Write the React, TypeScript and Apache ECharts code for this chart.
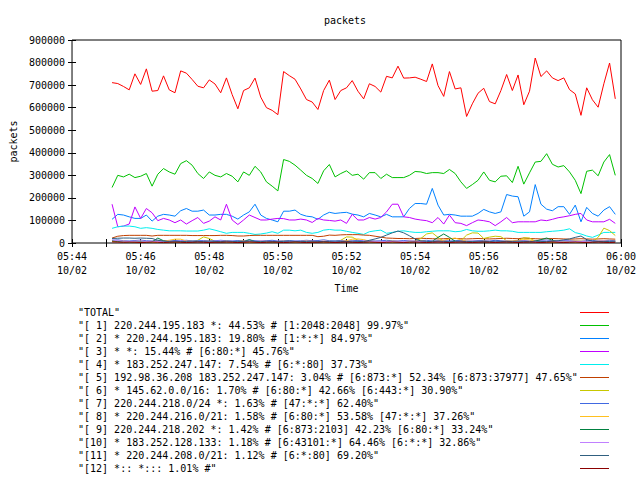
import React, { useEffect, useRef } from "react";
import * as echarts from "echarts";

// ---- data ----
const chartTitle = "packets";
const yAxisTitle = "packets";
const xAxisTitle = "Time";
const xTickLabels = ["05:44", "05:46", "05:48", "05:50", "05:52", "05:54", "05:56", "05:58", "06:00"];
const dateLabel = "10/02";
const xTickSeconds = [0, 120, 240, 360, 480, 600, 720, 840, 960]; // seconds after 05:44:00
const firstSampleSeconds = 70; // 05:45:10
const sampleStepSeconds = 10;

const seriesNames = [
  '"TOTAL"',
  '"[ 1] 220.244.195.183 *: 44.53% # [1:2048:2048] 99.97%"',
  '"[ 2] * 220.244.195.183: 19.80% # [1:*:*] 84.97%"',
  '"[ 3] * *: 15.44% # [6:80:*] 45.76%"',
  '"[ 4] * 183.252.247.147: 7.54% # [6:*:80] 37.73%"',
  '"[ 5] 192.98.36.208 183.252.247.147: 3.04% # [6:873:*] 52.34% [6:873:37977] 47.65%"',
  '"[ 6] * 145.62.0.0/16: 1.70% # [6:80:*] 42.66% [6:443:*] 30.90%"',
  '"[ 7] 220.244.218.0/24 *: 1.63% # [47:*:*] 62.40%"',
  '"[ 8] * 220.244.216.0/21: 1.58% # [6:80:*] 53.58% [47:*:*] 37.26%"',
  '"[ 9] 220.244.218.202 *: 1.42% # [6:873:2103] 42.23% [6:80:*] 33.24%"',
  '"[10] * 183.252.128.133: 1.18% # [6:43101:*] 64.46% [6:*:*] 32.86%"',
  '"[11] * 220.244.208.0/21: 1.12% # [6:*:80] 69.20%"',
  '"[12] *:: *::: 1.01% #"',
];

const seriesColors = [
  "#ff0000", "#00c000", "#0080ff", "#c000ff", "#00eeee", "#c04000", "#c8c800",
  "#4169e1", "#ffc020", "#008040", "#c080ff", "#306080", "#8b0000",
];

const total = [
  711000, 707000, 694000, 679000, 750000, 703000, 772000, 673000, 676000, 741000,
  679000, 666000, 763000, 753000, 725000, 695000, 688000, 723000, 705000, 666000,
  732000, 658000, 595000, 676000, 688000, 731000, 647000, 600000, 588000, 569000,
  760000, 742000, 726000, 683000, 636000, 625000, 592000, 676000, 722000, 636000,
  676000, 688000, 720000, 673000, 639000, 706000, 694000, 669000, 739000, 732000,
  784000, 731000, 732000, 735000, 726000, 716000, 794000, 698000, 650000, 760000,
  683000, 688000, 561000, 617000, 664000, 686000, 627000, 617000, 676000, 747000,
  676000, 745000, 613000, 673000, 820000, 738000, 763000, 732000, 720000, 732000,
  680000, 661000, 566000, 688000, 635000, 602000, 706000, 798000, 639000,
];
const s1 = [
  246000, 300000, 293000, 305000, 290000, 296000, 308000, 252000, 305000, 330000,
  315000, 305000, 352000, 365000, 345000, 308000, 286000, 315000, 300000, 293000,
  308000, 296000, 271000, 315000, 300000, 340000, 315000, 271000, 252000, 231000,
  370000, 362000, 345000, 323000, 300000, 286000, 264000, 320000, 348000, 293000,
  308000, 320000, 300000, 305000, 283000, 312000, 312000, 286000, 305000, 290000,
  290000, 290000, 300000, 317000, 315000, 308000, 312000, 312000, 308000, 326000,
  308000, 271000, 242000, 259000, 278000, 315000, 278000, 271000, 296000, 298000,
  268000, 340000, 261000, 311000, 359000, 362000, 396000, 349000, 337000, 343000,
  315000, 278000, 219000, 318000, 323000, 298000, 359000, 392000, 300000,
];
const s2 = [
  105000, 127000, 124000, 116000, 109000, 109000, 124000, 97000, 119000, 127000,
  124000, 119000, 143000, 153000, 141000, 141000, 146000, 124000, 124000, 127000,
  127000, 119000, 106000, 124000, 138000, 172000, 124000, 109000, 102000, 94000,
  141000, 141000, 146000, 127000, 119000, 116000, 105000, 124000, 136000, 131000,
  134000, 136000, 128000, 124000, 116000, 131000, 124000, 116000, 127000, 116000,
  116000, 116000, 153000, 175000, 175000, 172000, 242000, 168000, 124000, 127000,
  124000, 119000, 119000, 119000, 131000, 149000, 138000, 131000, 138000, 215000,
  208000, 205000, 119000, 138000, 259000, 172000, 150000, 143000, 161000, 161000,
  127000, 168000, 94000, 158000, 131000, 119000, 146000, 161000, 127000,
];
const s3 = [
  172000, 72000, 75000, 84000, 160000, 109000, 153000, 134000, 99000, 109000,
  102000, 90000, 102000, 84000, 99000, 113000, 87000, 97000, 116000, 102000,
  172000, 102000, 82000, 102000, 124000, 113000, 102000, 102000, 106000, 109000,
  108000, 102000, 102000, 106000, 102000, 91000, 109000, 102000, 100000, 97000,
  102000, 87000, 127000, 102000, 102000, 113000, 106000, 113000, 138000, 172000,
  172000, 116000, 113000, 106000, 102000, 99000, 90000, 113000, 84000, 124000,
  90000, 87000, 77000, 90000, 102000, 99000, 94000, 77000, 94000, 113000,
  90000, 94000, 94000, 94000, 94000, 102000, 99000, 105000, 112000, 116000,
  121000, 127000, 131000, 102000, 94000, 94000, 94000, 105000, 87000,
];
const s4 = [
  65000, 72000, 75000, 75000, 72000, 65000, 68000, 65000, 60000, 57000,
  54000, 54000, 54000, 53000, 53000, 53000, 57000, 63000, 57000, 50000,
  43000, 47000, 47000, 47000, 43000, 38000, 40000, 44000, 50000, 43000,
  57000, 57000, 54000, 57000, 47000, 43000, 47000, 57000, 60000, 57000,
  57000, 52000, 47000, 43000, 38000, 50000, 54000, 57000, 43000, 47000,
  52000, 54000, 50000, 47000, 47000, 50000, 52000, 54000, 54000, 54000,
  50000, 52000, 60000, 54000, 52000, 52000, 54000, 57000, 54000, 54000,
  52000, 47000, 47000, 47000, 47000, 47000, 50000, 52000, 54000, 57000,
  63000, 46000, 40000, 31000, 25000, 35000, 47000, 47000, 47000,
];
const s5 = [
  22000, 30000, 33000, 34000, 34000, 34000, 34000, 31000, 34000, 34000,
  34000, 34000, 34000, 34000, 33000, 33000, 33000, 33000, 33000, 34000,
  34000, 33000, 31000, 31000, 33000, 34000, 34000, 34000, 34000, 34000,
  34000, 34000, 34000, 34000, 34000, 34000, 28000, 30000, 35000, 34000,
  36000, 37000, 37000, 37000, 35000, 34000, 30000, 26000, 22000, 21000,
  20000, 20000, 19000, 20000, 21000, 20000, 19000, 18000, 19000, 20000,
  20000, 19000, 18000, 19000, 20000, 19000, 18000, 19000, 20000, 21000,
  20000, 19000, 22000, 20000, 19000, 18000, 19000, 20000, 19000, 18000,
  17000, 18000, 19000, 18000, 17000, 18000, 19000, 18000, 17000,
];
const s6 = [
  8000, 6000, 5000, 5000, 4000, 4000, 5000, 4000, 4000, 5000,
  5000, 4000, 4000, 5000, 6000, 12000, 27000, 20000, 8000, 5000,
  5000, 4000, 4000, 5000, 4000, 4000, 5000, 4000, 4000, 5000,
  5000, 4000, 4000, 5000, 4000, 4000, 5000, 4000, 4000, 6000,
  12000, 27000, 26000, 12000, 5000, 5000, 4000, 5000, 5000, 4000,
  5000, 5000, 4000, 8000, 20000, 40000, 45000, 25000, 8000, 5000,
  5000, 10000, 35000, 45000, 44000, 20000, 26000, 30000, 28000, 10000,
  6000, 10000, 23000, 22000, 8000, 5000, 5000, 4000, 5000, 6000,
  5000, 5000, 4000, 5000, 5000, 25000, 66000, 55000, 33000,
];
const s7 = [
  12000, 14000, 10000, 9000, 11000, 13000, 10000, 9000, 12000, 10000,
  9000, 11000, 10000, 12000, 9000, 10000, 11000, 9000, 10000, 12000,
  10000, 9000, 11000, 10000, 13000, 10000, 9000, 10000, 12000, 9000,
  10000, 11000, 9000, 10000, 12000, 10000, 11000, 14000, 10000, 9000,
  11000, 10000, 9000, 12000, 10000, 11000, 9000, 10000, 12000, 10000,
  9000, 11000, 10000, 8000, 10000, 12000, 9000, 10000, 11000, 9000,
  10000, 12000, 9000, 8000, 10000, 11000, 9000, 12000, 10000, 9000,
  8000, 10000, 11000, 9000, 10000, 12000, 13000, 10000, 9000, 11000,
  10000, 9000, 8000, 10000, 11000, 9000, 10000, 12000, 10000,
];
const s8 = [
  9000, 7000, 8000, 6000, 7000, 8000, 6000, 7000, 8000, 9000,
  12000, 17000, 17000, 9000, 7000, 6000, 7000, 8000, 6000, 7000,
  8000, 6000, 7000, 9000, 7000, 6000, 8000, 7000, 6000, 7000,
  8000, 7000, 6000, 7000, 9000, 7000, 6000, 8000, 7000, 6000,
  7000, 10000, 17000, 18000, 15000, 8000, 7000, 6000, 7000, 8000,
  7000, 6000, 8000, 7000, 9000, 7000, 6000, 8000, 12000, 18000,
  22000, 14000, 8000, 7000, 6000, 8000, 7000, 6000, 7000, 8000,
  9000, 12000, 15000, 14000, 8000, 7000, 6000, 8000, 7000, 6000,
  7000, 9000, 8000, 7000, 6000, 8000, 9000, 7000, 8000,
];
const s9 = [
  10000, 7000, 5000, 4000, 5000, 6000, 4000, 5000, 22000, 10000,
  5000, 4000, 6000, 5000, 4000, 5000, 6000, 4000, 5000, 4000,
  5000, 6000, 4000, 5000, 15000, 6000, 4000, 5000, 4000, 6000,
  5000, 4000, 5000, 6000, 4000, 5000, 4000, 6000, 5000, 4000,
  5000, 6000, 4000, 5000, 4000, 6000, 5000, 4000, 5000, 6000,
  5000, 4000, 5000, 6000, 5000, 4000, 8000, 25000, 40000, 25000,
  8000, 5000, 4000, 5000, 6000, 4000, 5000, 4000, 6000, 5000,
  4000, 5000, 6000, 4000, 8000, 15000, 22000, 12000, 5000, 4000,
  5000, 6000, 4000, 5000, 4000, 6000, 5000, 4000, 5000,
];
const s10 = [
  14000, 10000, 8000, 7000, 8000, 9000, 7000, 8000, 6000, 7000,
  8000, 7000, 9000, 8000, 7000, 6000, 8000, 7000, 8000, 9000,
  7000, 8000, 6000, 7000, 8000, 7000, 9000, 8000, 7000, 8000,
  7000, 6000, 8000, 7000, 8000, 9000, 7000, 8000, 7000, 6000,
  8000, 7000, 8000, 7000, 9000, 8000, 7000, 8000, 6000, 7000,
  8000, 7000, 9000, 8000, 7000, 6000, 8000, 7000, 8000, 7000,
  6000, 8000, 7000, 9000, 8000, 7000, 8000, 6000, 7000, 8000,
  7000, 8000, 9000, 7000, 6000, 8000, 7000, 8000, 7000, 9000,
  8000, 7000, 6000, 8000, 7000, 8000, 9000, 7000, 8000,
];
const s11 = [
  20000, 21000, 22000, 22000, 21000, 22000, 21000, 20000, 12000, 8000,
  7000, 8000, 6000, 7000, 8000, 6000, 7000, 8000, 7000, 6000,
  8000, 7000, 6000, 7000, 8000, 7000, 6000, 8000, 7000, 6000,
  7000, 8000, 7000, 6000, 7000, 8000, 7000, 6000, 7000, 8000,
  7000, 6000, 8000, 7000, 6000, 12000, 18000, 25000, 35000, 45000,
  53000, 45000, 32000, 18000, 9000, 7000, 6000, 8000, 7000, 6000,
  7000, 8000, 6000, 7000, 8000, 7000, 6000, 8000, 7000, 6000,
  7000, 8000, 7000, 6000, 8000, 7000, 6000, 8000, 10000, 14000,
  18000, 25000, 31000, 15000, 8000, 7000, 6000, 7000, 8000,
];
const s12 = [
  5000, 4000, 3000, 4000, 3000, 2000, 3000, 4000, 3000, 2000,
  3000, 4000, 3000, 2000, 3000, 4000, 3000, 2000, 3000, 3000,
  4000, 3000, 2000, 3000, 4000, 3000, 2000, 3000, 4000, 3000,
  2000, 3000, 4000, 3000, 2000, 3000, 3000, 4000, 3000, 2000,
  3000, 4000, 3000, 2000, 3000, 4000, 3000, 2000, 3000, 4000,
  3000, 2000, 3000, 4000, 3000, 2000, 3000, 4000, 3000, 2000,
  3000, 4000, 3000, 2000, 3000, 4000, 3000, 2000, 3000, 4000,
  3000, 2000, 3000, 4000, 3000, 2000, 3000, 4000, 3000, 2000,
  3000, 4000, 3000, 2000, 3000, 4000, 3000, 2000, 3000,
];

const allSeries = [total, s1, s2, s3, s4, s5, s6, s7, s8, s9, s10, s11, s12];

const FONT = '"DejaVu Sans Mono", "Liberation Mono", monospace';

export default function App() {
  const ref = useRef<HTMLDivElement>(null);

  useEffect(() => {
    if (!ref.current) return;
    const chart = echarts.init(ref.current, null, { renderer: "svg" });

    const sampleTimes = total.map((_, i) => firstSampleSeconds + i * sampleStepSeconds);

    const xLabel = (v: number) => {
      const idx = xTickSeconds.indexOf(v);
      return idx >= 0 ? `${xTickLabels[idx]}\n${dateLabel}` : "";
    };

    const legendGraphics: any[] = [];
    seriesNames.forEach((name, i) => {
      const y = 312.5 + 13 * i;
      legendGraphics.push({
        type: "text",
        x: 78,
        y,
        style: { text: name, font: `10px ${FONT}`, fill: "#000", verticalAlign: "middle", align: "left" },
      });
      legendGraphics.push({
        type: "line",
        shape: { x1: 580, y1: y, x2: 609, y2: y },
        style: { stroke: seriesColors[i], lineWidth: 1 },
      });
    });

    const tickStyle = { show: true, inside: true, length: 4, lineStyle: { color: "#000", width: 1 } };

    const option: any = {
      animation: false,
      backgroundColor: "#fff",
      textStyle: { fontFamily: FONT, fontSize: 10, color: "#000" },
      grid: {
        left: 70,
        right: 19,
        top: 40,
        bottom: 237,
        show: true,
        borderColor: "#000",
        borderWidth: 1,
        backgroundColor: "transparent",
      },
      xAxis: [
        {
          type: "value",
          position: "bottom",
          min: 0,
          max: 960,
          interval: 60,
          name: xAxisTitle,
          nameLocation: "middle",
          nameGap: 40,
          nameTextStyle: { fontFamily: FONT, fontSize: 10, color: "#000" },
          axisLine: { show: false },
          splitLine: { show: false },
          axisTick: tickStyle,
          axisLabel: {
            formatter: xLabel,
            margin: 6,
            lineHeight: 14,
            fontFamily: FONT,
            fontSize: 10,
            color: "#000",
            showMinLabel: true,
            showMaxLabel: true,
          },
        },
        {
          type: "value",
          position: "top",
          min: 0,
          max: 960,
          interval: 60,
          axisLine: { show: false },
          splitLine: { show: false },
          axisTick: tickStyle,
          axisLabel: { show: false },
        },
      ],
      yAxis: [
        {
          type: "value",
          position: "left",
          min: 0,
          max: 900000,
          interval: 100000,
          name: yAxisTitle,
          nameLocation: "middle",
          nameGap: 53,
          nameRotate: 90,
          nameTextStyle: { fontFamily: FONT, fontSize: 10, color: "#000" },
          axisLine: { show: false },
          splitLine: { show: false },
          axisTick: tickStyle,
          axisLabel: {
            margin: 7,
            fontFamily: FONT,
            fontSize: 10,
            color: "#000",
            formatter: (v: number) => String(v),
          },
        },
        {
          type: "value",
          position: "right",
          min: 0,
          max: 900000,
          interval: 100000,
          axisLine: { show: false },
          splitLine: { show: false },
          axisTick: tickStyle,
          axisLabel: { show: false },
        },
      ],
      graphic: [
        {
          type: "text",
          x: 345,
          y: 20,
          style: { text: chartTitle, font: `10px ${FONT}`, fill: "#000", align: "center", verticalAlign: "middle" },
        },
        ...legendGraphics,
      ],
      series: allSeries.map((vals, i) => ({
        name: seriesNames[i],
        type: "line",
        xAxisIndex: 0,
        yAxisIndex: 0,
        showSymbol: false,
        symbol: "none",
        lineStyle: { color: seriesColors[i], width: 1 },
        itemStyle: { color: seriesColors[i] },
        data: vals.map((v, k) => [sampleTimes[k], v]),
      })),
    };

    chart.setOption(option);
    return () => chart.dispose();
  }, []);

  return <div ref={ref} style={{ width: 640, height: 480, position: "absolute", left: 0, top: 0 }} />;
}
